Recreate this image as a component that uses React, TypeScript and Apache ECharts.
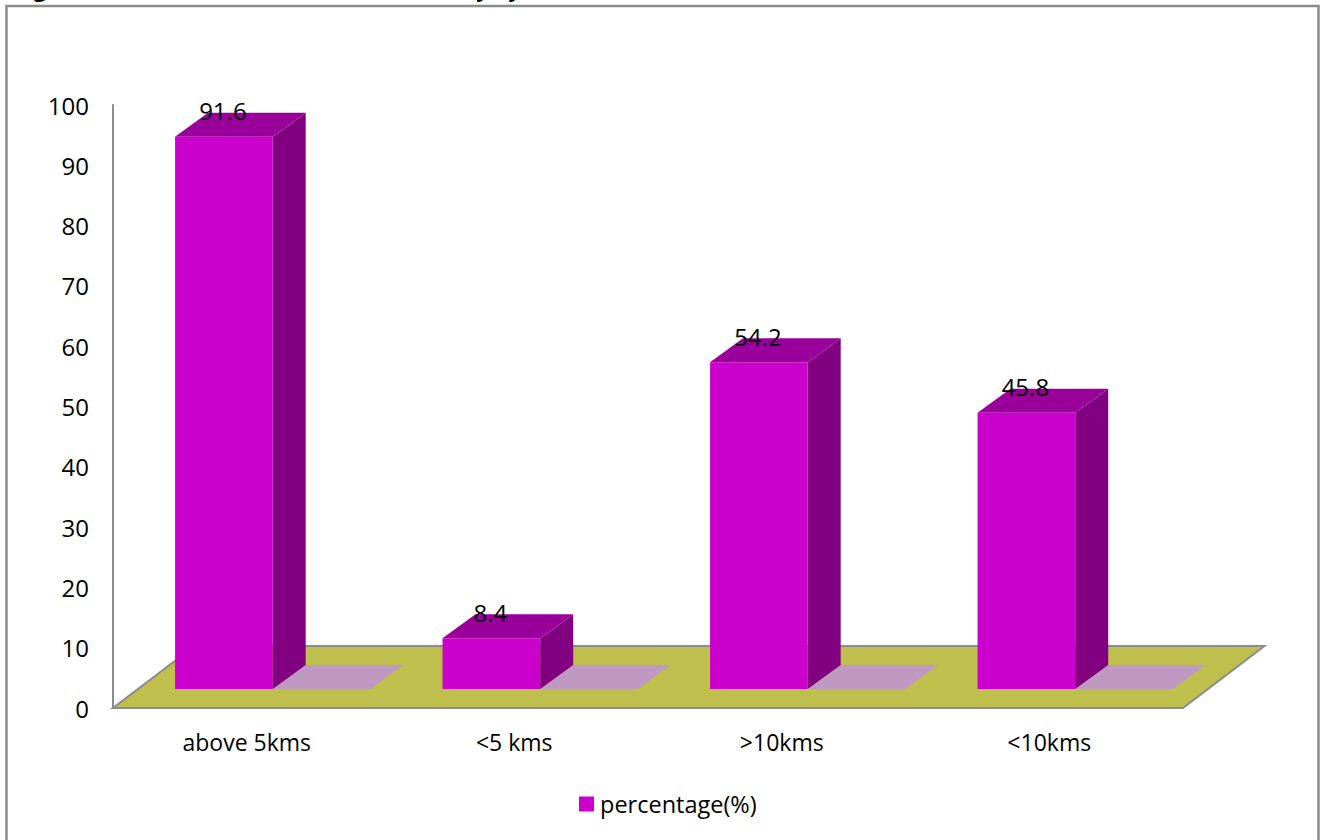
import React, { useEffect, useRef } from "react";
import * as echarts from "echarts";

// Distance bands and the share of respondents in each
const categories = ["above 5kms", "<5 kms", ">10kms", "<10kms"];
const percentages = [91.6, 8.4, 54.2, 45.8];
const seriesName = "percentage(%)";
const heading = "Figure 4: Shows the distance travelled daily by health seekers for services in kms";

const FONT = "'Open Sans', sans-serif";
const COLORS = {
  front: "#CC00CC",
  side: "#800080",
  top: "#990099",
  floor: "#BFBF4D",
  shadow: "#BF99C2",
  axis: "#8C8C8C",
};

// Oblique projection of the 3D look, in pixels
const FLOOR_DX = 81.5;
const FLOOR_DY = 62;
const BAR_DX = 33;
const BAR_DY = 24;
const BAR_LIFT = 19;
const BAR_WIDTH_RATIO = 0.365;
const BAR_OFFSET_RATIO = 0.268;

function barFrame(params: any, api: any) {
  const i = api.value(0);
  const [cx, yTop] = api.coord([i, api.value(1)]);
  const yBase = api.coord([i, 0])[1] - BAR_LIFT;
  const band = api.size([1, 0])[0];
  const w = band * BAR_WIDTH_RATIO;
  const x0 = cx - band * BAR_OFFSET_RATIO;
  return { x0, x1: x0 + w, w, yTop: yTop - BAR_LIFT, yBase };
}

function renderFloor(params: any) {
  const { x, y, width, height } = params.coordSys;
  const b = y + height;
  return {
    type: "polygon",
    shape: {
      points: [
        [x, b],
        [x + width, b],
        [x + width + FLOOR_DX, b - FLOOR_DY],
        [x + FLOOR_DX, b - FLOOR_DY],
      ],
    },
    style: { fill: COLORS.floor, stroke: COLORS.axis, lineWidth: 2 },
  };
}

function renderBar(params: any, api: any) {
  const { x0, x1, w, yTop, yBase } = barFrame(params, api);
  return {
    type: "group",
    children: [
      {
        type: "polygon",
        shape: {
          points: [
            [x1, yBase],
            [x1 + w, yBase],
            [x1 + w + BAR_DX, yBase - BAR_DY],
            [x1 + BAR_DX, yBase - BAR_DY],
          ],
        },
        style: { fill: COLORS.shadow },
      },
      {
        type: "polygon",
        shape: {
          points: [
            [x1, yTop],
            [x1 + BAR_DX, yTop - BAR_DY],
            [x1 + BAR_DX, yBase - BAR_DY],
            [x1, yBase],
          ],
        },
        style: { fill: COLORS.side },
      },
      {
        type: "polygon",
        shape: {
          points: [
            [x0, yTop],
            [x0 + BAR_DX, yTop - BAR_DY],
            [x1 + BAR_DX, yTop - BAR_DY],
            [x1, yTop],
          ],
        },
        style: { fill: COLORS.top },
      },
      {
        type: "rect",
        shape: { x: x0, y: yTop, width: w, height: yBase - yTop },
        style: { fill: COLORS.front },
      },
      {
        type: "text",
        style: {
          x: (x0 + x1) / 2 - 1,
          y: yTop - 26,
          text: String(api.value(1)),
          fill: "#000",
          font: `24px ${FONT}`,
          align: "center",
          verticalAlign: "middle",
        },
      },
    ],
  };
}

export default function App() {
  const ref = useRef<HTMLDivElement>(null);

  useEffect(() => {
    document.body.style.margin = "0";
    const chart = echarts.init(ref.current!, null, { renderer: "svg" });
    chart.setOption({
      animation: false,
      backgroundColor: "#fff",
      tooltip: { show: false },
      grid: { left: 113, top: 105, width: 1070, height: 603 },
      legend: {
        left: 579,
        top: 792,
        padding: 0,
        itemWidth: 15,
        itemHeight: 15,
        itemGap: 6,
        icon: "rect",
        data: [seriesName],
        textStyle: { color: "#000", fontFamily: FONT, fontSize: 23.5, padding: [0, 0, 0, 1] },
      },
      xAxis: {
        type: "category",
        data: categories,
        axisLine: { show: false },
        axisTick: { show: false },
        axisLabel: { color: "#000", fontFamily: FONT, fontSize: 23, margin: 22 },
      },
      yAxis: {
        type: "value",
        min: 0,
        max: 100,
        interval: 10,
        splitLine: { show: false },
        axisTick: { show: false },
        axisLine: { show: true, lineStyle: { color: COLORS.axis, width: 2 } },
        axisLabel: { color: "#000", fontFamily: FONT, fontSize: 24, margin: 24, padding: [2, 0, 0, 0] },
      },
      graphic: [
        {
          type: "rect",
          shape: { x: 6.5, y: 6, width: 1312, height: 860 },
          style: { fill: "none", stroke: COLORS.axis, lineWidth: 2.5 },
          silent: true,
        },
        {
          type: "text",
          x: 15,
          y: -23,
          style: { text: heading, fill: "#000", font: `bold 22px ${FONT}` },
          silent: true,
        },
      ],
      series: [
        {
          type: "custom",
          name: "floor",
          renderItem: renderFloor,
          data: [0],
          silent: true,
          z: 1,
        },
        {
          type: "custom",
          name: seriesName,
          renderItem: renderBar,
          data: percentages.map((v, i) => [i, v]),
          encode: { x: 0, y: 1 },
          itemStyle: { color: COLORS.front },
          silent: true,
          z: 2,
        },
      ],
    });
    return () => chart.dispose();
  }, []);

  return <div ref={ref} style={{ width: 1321, height: 840 }} />;
}
